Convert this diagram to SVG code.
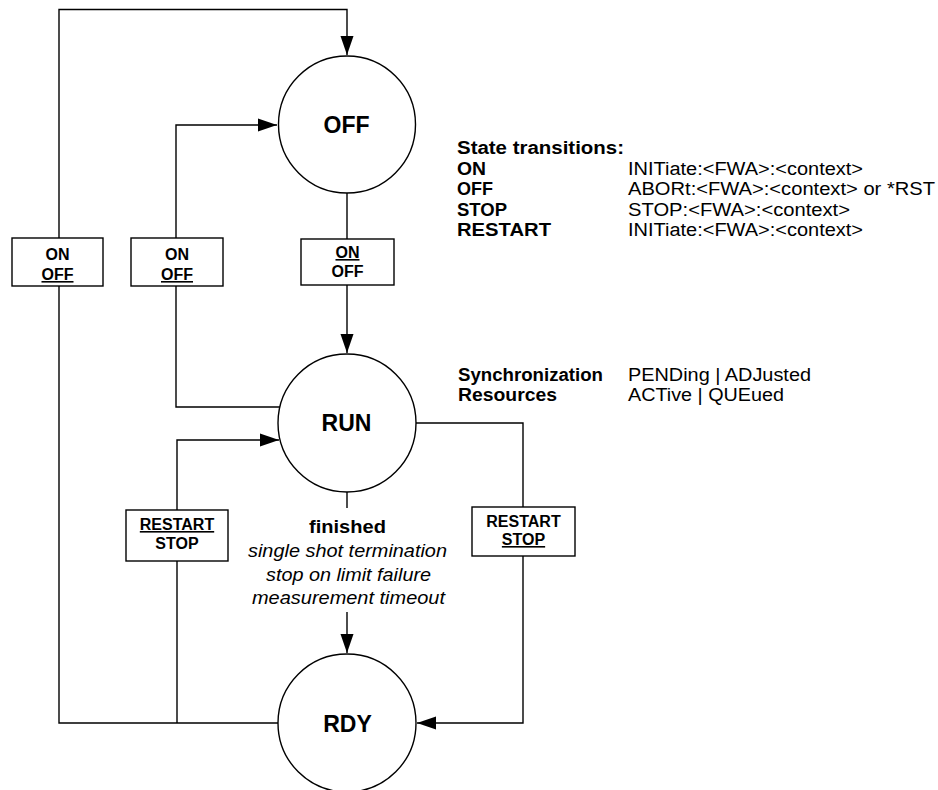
<svg xmlns="http://www.w3.org/2000/svg" width="938" height="790" viewBox="0 0 938 790">
<style>
  .st { fill: #fff; stroke: #000; stroke-width: 1.4; }
  .ln { fill: none; stroke: #000; stroke-width: 1.4; }
  .arr { fill: none; stroke: #000; stroke-width: 1.4; marker-end: url(#ah); }
  .box { fill: #fff; stroke: #000; stroke-width: 1.4; }
  .node { font-family: "Liberation Sans", Arial, sans-serif; font-weight: bold; font-size: 23px; text-anchor: middle; fill: #000; }
  .bl { font-family: "Liberation Sans", Arial, sans-serif; font-weight: bold; font-size: 16px; text-anchor: middle; fill: #000; }
  .u { text-decoration: underline; }
  .hb { font-family: "Liberation Sans", Arial, sans-serif; font-weight: bold; font-size: 18px; fill: #000; }
  .hr { font-family: "Liberation Sans", Arial, sans-serif; font-size: 18px; fill: #000; }
  .it { font-family: "Liberation Sans", Arial, sans-serif; font-style: italic; font-size: 18px; text-anchor: middle; fill: #000; }
</style>
<defs>
  <marker id="ah" markerUnits="userSpaceOnUse" markerWidth="20" markerHeight="14" refX="19" refY="7" orient="auto">
    <path d="M0,0.5 L19,7 L0,13.5 Z" fill="#000"/>
  </marker>
</defs>

<g id="connectors">
  <path class="arr" d="M278,723 H59 V9.5 H347 V55"/>
  <path class="arr" d="M280,407 H176 V125 H277"/>
  <path class="arr" d="M347,193 V353"/>
  <path class="arr" d="M177,723 V440 H279"/>
  <path class="arr" d="M416,423 H523 V723 H417"/>
  <path class="ln" d="M347,492 V508"/>
  <path class="arr" d="M347,612 V653"/>
</g>

<g id="label-box1">
  <rect class="box" x="12" y="238" width="91" height="48"/>
  <text class="bl" x="57.5" y="260">ON</text>
  <text class="bl u" x="57.5" y="280">OFF</text>
</g>
<g id="label-box2">
  <rect class="box" x="131" y="238" width="92" height="48"/>
  <text class="bl" x="177" y="260">ON</text>
  <text class="bl u" x="177" y="280">OFF</text>
</g>
<g id="label-box3">
  <rect class="box" x="301" y="239" width="93" height="46"/>
  <text class="bl u" x="347.5" y="258">ON</text>
  <text class="bl" x="347.5" y="277">OFF</text>
</g>
<g id="label-box4">
  <rect class="box" x="126" y="510" width="102" height="51"/>
  <text class="bl u" x="177" y="530">RESTART</text>
  <text class="bl" x="177" y="549">STOP</text>
</g>
<g id="label-box5">
  <rect class="box" x="472" y="507" width="103" height="49"/>
  <text class="bl" x="523.5" y="527">RESTART</text>
  <text class="bl u" x="523.5" y="545">STOP</text>
</g>

<g id="finished-label">
  <text class="hb" x="347.5" y="533" text-anchor="middle" textLength="77" lengthAdjust="spacingAndGlyphs">finished</text>
  <text class="it" x="347.5" y="557" textLength="199" lengthAdjust="spacingAndGlyphs">single shot termination</text>
  <text class="it" x="348.5" y="581" textLength="165" lengthAdjust="spacingAndGlyphs">stop on limit failure</text>
  <text class="it" x="348.5" y="604" textLength="193" lengthAdjust="spacingAndGlyphs">measurement timeout</text>
</g>

<g id="OFF">
  <circle class="st" cx="347" cy="124.5" r="68.5"/>
  <text class="node" x="346.5" y="132.5">OFF</text>
</g>
<g id="RUN">
  <circle class="st" cx="347" cy="423" r="69"/>
  <text class="node" x="346.5" y="431">RUN</text>
</g>
<g id="RDY">
  <circle class="st" cx="347" cy="723" r="69"/>
  <text class="node" x="347.5" y="731.5">RDY</text>
</g>

<g id="legend">
  <text class="hb" x="457" y="154" textLength="167" lengthAdjust="spacingAndGlyphs">State transitions:</text>
  <text class="hb" x="457" y="174.5" textLength="29" lengthAdjust="spacingAndGlyphs">ON</text>
  <text class="hb" x="457" y="195" textLength="36" lengthAdjust="spacingAndGlyphs">OFF</text>
  <text class="hb" x="457" y="215.5" textLength="50" lengthAdjust="spacingAndGlyphs">STOP</text>
  <text class="hb" x="457" y="236" textLength="94" lengthAdjust="spacingAndGlyphs">RESTART</text>
  <text class="hr" x="628" y="174.5" textLength="235" lengthAdjust="spacingAndGlyphs">INITiate:&lt;FWA&gt;:&lt;context&gt;</text>
  <text class="hr" x="628" y="195" textLength="307" lengthAdjust="spacingAndGlyphs">ABORt:&lt;FWA&gt;:&lt;context&gt; or *RST</text>
  <text class="hr" x="628" y="215.5" textLength="222" lengthAdjust="spacingAndGlyphs">STOP:&lt;FWA&gt;:&lt;context&gt;</text>
  <text class="hr" x="628" y="236" textLength="235" lengthAdjust="spacingAndGlyphs">INITiate:&lt;FWA&gt;:&lt;context&gt;</text>
  <text class="hb" x="458" y="381" textLength="145" lengthAdjust="spacingAndGlyphs">Synchronization</text>
  <text class="hb" x="458" y="401" textLength="99" lengthAdjust="spacingAndGlyphs">Resources</text>
  <text class="hr" x="628" y="381" textLength="183" lengthAdjust="spacingAndGlyphs">PENDing | ADJusted</text>
  <text class="hr" x="628" y="401" textLength="156" lengthAdjust="spacingAndGlyphs">ACTive | QUEued</text>
</g>
</svg>
